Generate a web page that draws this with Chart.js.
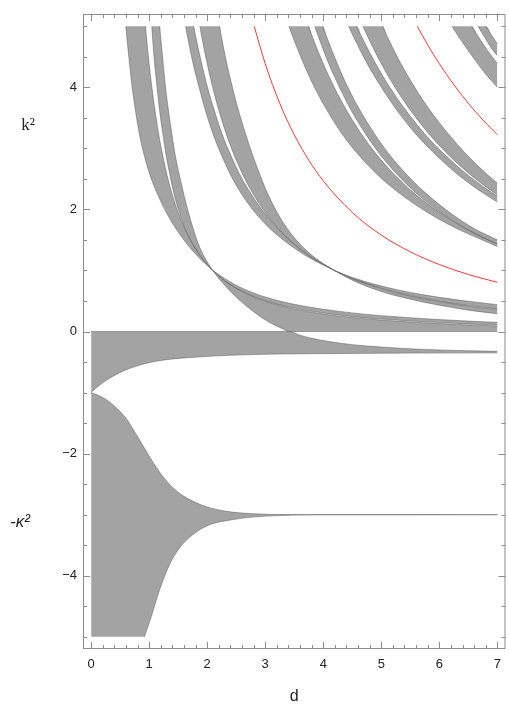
<!DOCTYPE html>
<html>
<head>
<meta charset="utf-8">
<script src="https://cdn.jsdelivr.net/npm/chart.js@4.4.1/dist/chart.umd.min.js"></script>
<style>
  html, body { margin: 0; padding: 0; background: #fff; }
  canvas { display: block; }
</style>
</head>
<body>
<canvas id="bandChart" width="509" height="720"></canvas>
<script>
// axis ticks
var xMajorTicks = [0, 1, 2, 3, 4, 5, 6, 7];
var xTickLabels = ['0', '1', '2', '3', '4', '5', '6', '7'];
var yMajorTicks = [-4, -2, 0, 2, 4];
var yTickLabels = ['\u22124', '\u22122', '0', '2', '4'];

// band edges, [d, k^2]
// first pair (above the crossing near d = 2.1)
var band1Low  = [[0.597,5],[0.613,4.84],[0.659,4.41],[0.707,4.0],[0.765,3.61],[0.830,3.24],[0.914,2.89],[1.015,2.56],[1.143,2.25],[1.289,1.96],[1.457,1.69],[1.645,1.44],[1.858,1.21],[2.094,1.0]];
var band1High = [[0.597,5],[0.937,5],[0.952,4.84],[0.997,4.41],[1.047,4.0],[1.102,3.61],[1.163,3.24],[1.232,2.89],[1.309,2.56],[1.396,2.25],[1.496,1.96],[1.611,1.69],[1.745,1.44],[1.904,1.21],[2.094,1.0]];
var band2Low  = [[1.044,5],[1.056,4.84],[1.092,4.41],[1.137,4.0],[1.181,3.61],[1.236,3.24],[1.291,2.89],[1.359,2.56],[1.429,2.25],[1.517,1.96],[1.618,1.69],[1.749,1.44],[1.906,1.21],[2.094,1.0]];
var band2High = [[1.044,5],[1.182,5],[1.197,4.84],[1.240,4.41],[1.282,4.0],[1.334,3.61],[1.391,3.24],[1.449,2.89],[1.521,2.56],[1.596,2.25],[1.674,1.96],[1.757,1.69],[1.845,1.44],[1.958,1.21],[2.094,1.0]];
// first pair below the crossing
var band1bLow  = [[2.094,1.0],[2.3,0.832],[2.6,0.66],[3.0,0.505],[3.5,0.383],[4.0,0.302],[4.5,0.245],[5.0,0.203],[5.5,0.172],[6.0,0.146],[6.5,0.124],[7.0,0.105]];
var band1bHigh = [[2.094,1.0],[2.3,0.87],[2.6,0.71],[3.0,0.565],[3.5,0.445],[4.0,0.365],[4.5,0.305],[5.0,0.26],[5.5,0.225],[6.0,0.195],[6.5,0.17],[7.0,0.15]];
var band2bLow  = [[2.094,1.0],[2.2,0.87],[2.35,0.71],[2.55,0.52],[2.75,0.36],[2.95,0.22],[3.15,0.11],[3.3,0.045],[3.41,0],[7.0,0]];
var band2bHigh = [[2.094,1.0],[2.3,0.83],[2.6,0.655],[3.0,0.495],[3.5,0.37],[4.0,0.287],[4.5,0.23],[5.0,0.187],[5.5,0.155],[6.0,0.13],[6.5,0.108],[7.0,0.09]];

// second pair (crossing near d = 4.2)
var band3Low  = [[1.627,5],[1.659,4.84],[1.752,4.41],[1.860,4.0],[1.973,3.61],[2.099,3.24],[2.246,2.89],[2.406,2.56],[2.593,2.25],[2.814,1.96],[3.076,1.69],[3.391,1.44],[3.754,1.21],[4.189,1.0]];
var band3High = [[1.627,5],[1.766,5],[1.800,4.84],[1.900,4.41],[2.005,4.0],[2.126,3.61],[2.255,3.24],[2.405,2.89],[2.568,2.56],[2.759,2.25],[2.971,1.96],[3.215,1.69],[3.489,1.44],[3.807,1.21],[4.189,1.0]];
var band4Low  = [[1.873,5],[1.904,4.84],[1.995,4.41],[2.094,4.0],[2.205,3.61],[2.327,3.24],[2.464,2.89],[2.618,2.56],[2.793,2.25],[2.992,1.96],[3.222,1.69],[3.491,1.44],[3.808,1.21],[4.189,1.0]];
var band4High = [[1.873,5],[2.213,5],[2.243,4.84],[2.333,4.41],[2.435,4.0],[2.542,3.61],[2.661,3.24],[2.782,2.89],[2.912,2.56],[3.046,2.25],[3.199,1.96],[3.376,1.69],[3.591,1.44],[3.854,1.21],[4.189,1.0]];
var band3bLow  = [[4.189,1.0],[4.5,0.869],[5.0,0.708],[5.5,0.588],[6.0,0.497],[6.5,0.426],[7.0,0.37]];
var band3bHigh = [[4.189,1.0],[4.5,0.885],[5.0,0.745],[5.5,0.64],[6.0,0.56],[6.5,0.495],[7.0,0.44]];
var band4bLow  = [[4.189,1.0],[4.5,0.84],[5.0,0.655],[5.5,0.53],[6.0,0.43],[6.5,0.35],[7.0,0.29]];
var band4bHigh = [[4.189,1.0],[4.5,0.867],[5.0,0.702],[5.5,0.58],[6.0,0.487],[6.5,0.415],[7.0,0.358]];

// third pair
var band5Low  = [[3.407,5],[3.470,4.84],[3.651,4.41],[3.849,4.0],[4.073,3.61],[4.321,3.24],[4.611,2.89],[4.943,2.56],[5.332,2.25],[5.777,1.96],[6.291,1.69],[6.882,1.44],[7.0,1.39]];
var band5High = [[3.407,5],[3.747,5],[3.808,4.84],[3.990,4.41],[4.189,4.0],[4.409,3.61],[4.654,3.24],[4.928,2.89],[5.236,2.56],[5.585,2.25],[5.984,1.96],[6.445,1.69],[6.982,1.44],[7.0,1.432]];
var band6Low  = [[3.854,5],[3.913,4.84],[4.085,4.41],[4.279,4.0],[4.488,3.61],[4.727,3.24],[4.987,2.89],[5.286,2.56],[5.619,2.25],[6.006,1.96],[6.452,1.69],[6.986,1.44],[7.0,1.436]];
var band6High = [[3.854,5],[3.993,5],[4.054,4.84],[4.232,4.41],[4.424,4.0],[4.641,3.61],[4.882,3.24],[5.146,2.89],[5.449,2.56],[5.785,2.25],[6.163,1.96],[6.591,1.69],[7.0,1.50]];

// fourth pair
var band7Low  = [[4.437,5],[4.515,4.84],[4.744,4.41],[5.001,4.0],[5.280,3.61],[5.590,3.24],[5.942,2.89],[6.333,2.56],[6.781,2.25],[7.0,2.12]];
var band7High = [[4.437,5],[4.576,5],[4.655,4.84],[4.891,4.41],[5.146,4.0],[5.433,3.61],[5.746,3.24],[6.101,2.89],[6.495,2.56],[6.948,2.25],[7.0,2.22]];
var band8Low  = [[4.683,5],[4.760,4.84],[4.987,4.41],[5.236,4.0],[5.512,3.61],[5.818,3.24],[6.160,2.89],[6.545,2.56],[6.981,2.25],[7.0,2.238]];
var band8High = [[4.683,5],[5.023,5],[5.099,4.84],[5.325,4.41],[5.576,4.0],[5.848,3.61],[6.151,3.24],[6.478,2.89],[6.839,2.56],[7.0,2.43]];

// fifth pair (top right corner)
var band9Low   = [[6.217,5],[6.325,4.84],[6.643,4.41],[6.813,4.2],[7.0,4.0]];
var band9High  = [[6.217,5],[6.557,5],[6.664,4.84],[6.819,4.62],[7.0,4.387]];
var band10Low  = [[6.664,5],[6.769,4.84],[6.912,4.62],[7.0,4.52]];
var band10High = [[6.664,5],[6.803,5],[6.910,4.84],[7.0,4.71]];

// negative side (-kappa^2)
var band0Low  = [[0,-1],[0.08,-0.93],[0.26,-0.80],[0.5,-0.67],[0.8,-0.56],[1.23,-0.47],[1.8,-0.42],[2.4,-0.39],[3.2,-0.37],[4.4,-0.36],[5.5,-0.354],[7.0,-0.35]];
var band0High = [[0,0],[3.41,0],[3.6,-0.06],[3.8,-0.11],[4.1,-0.165],[4.5,-0.215],[5.0,-0.255],[5.5,-0.283],[6.0,-0.302],[6.5,-0.315],[7.0,-0.325]];
var bandLLow  = [[0,-5],[0.92,-5],[0.93,-4.97],[1.03,-4.69],[1.17,-4.26],[1.35,-3.82],[1.52,-3.55],[1.75,-3.33],[2.03,-3.17],[2.38,-3.09],[2.78,-3.04],[3.24,-3.015],[3.81,-3.003],[7.0,-3.0]];
var bandLHigh = [[0,-1],[0.2,-1.08],[0.4,-1.22],[0.6,-1.42],[0.8,-1.72],[1.0,-2.04],[1.2,-2.33],[1.4,-2.55],[1.6,-2.70],[1.9,-2.84],[2.3,-2.94],[2.8,-2.985],[3.5,-2.999],[7.0,-3.0]];

// red curves
var red1 = [[2.81,5.0],[3.0,4.386],[3.25,3.738],[3.5,3.223],[3.75,2.807],[4.0,2.467],[4.5,1.950],[5.0,1.579],[5.5,1.305],[6.0,1.097],[6.5,0.934],[7.0,0.806]];
var red2 = [[5.62,5.0],[5.8,4.694],[6.0,4.386],[6.25,4.043],[6.5,3.738],[6.75,3.466],[7.0,3.223]];

var bands = [
    [band1Low, band1High], [band2Low, band2High],
    [band1bLow, band1bHigh], [band2bLow, band2bHigh],
    [band3Low, band3High], [band4Low, band4High],
    [band3bLow, band3bHigh], [band4bLow, band4bHigh],
    [band5Low, band5High], [band6Low, band6High],
    [band7Low, band7High], [band8Low, band8High],
    [band9Low, band9High], [band10Low, band10High],
    [band0Low, band0High], [bandLLow, bandLHigh]
];

var fillGray = '#a3a3a3';
var edgeGray = 'rgba(85,85,85,0.8)';
var none = 'rgba(0,0,0,0)';

function toPoints(arr) {
    return arr.map(function(p) { return {x: p[0], y: p[1]}; });
}

// edge line without the stretch that lies on the clipped top / bottom of the range
function edgePart(arr) {
    var i = 0;
    while (i < arr.length - 1 && Math.abs(arr[i][1]) >= 5 && Math.abs(arr[i + 1][1]) >= 5) i++;
    return arr.slice(i);
}

var datasets = [];
// fills (order 2 = drawn underneath)
bands.forEach(function(b) {
    datasets.push({ data: toPoints(b[0]), borderColor: none, borderWidth: 0, fill: false, order: 2 });
    datasets.push({ data: toPoints(b[1]), borderColor: none, borderWidth: 0, backgroundColor: fillGray, fill: '-1', order: 2 });
});
// thin darker outlines on top of the fills
bands.forEach(function(b) {
    [b[0], b[1]].forEach(function(edge) {
        datasets.push({ data: toPoints(edgePart(edge)), borderColor: edgeGray, borderWidth: 0.6, fill: false, order: 1 });
    });
});
[red1, red2].forEach(function(r) {
    datasets.push({ data: toPoints(r), borderColor: 'rgb(255,50,50)', borderWidth: 1, fill: false, order: 0 });
});

// frame with inward ticks, and the two labels on the left
var framePlugin = {
    id: 'frame',
    afterDatasetsDraw: function(chart) {
        var ctx = chart.ctx, a = chart.chartArea;
        var xs = chart.scales.x, ys = chart.scales.y;
        ctx.save();
        ctx.strokeStyle = '#8c8c8c';
        ctx.lineWidth = 1;
        ctx.strokeRect(a.left + 0.5, a.top + 0.5, a.right - a.left - 1, a.bottom - a.top - 1);
        ctx.beginPath();
        xs.ticks.forEach(function(t) {
            var px = Math.round(xs.getPixelForValue(t.value)) + 0.5;
            var len = xMajorTicks.indexOf(Math.round(t.value * 1000) / 1000) >= 0 ? 7 : 4;
            ctx.moveTo(px, a.bottom); ctx.lineTo(px, a.bottom - len);
            ctx.moveTo(px, a.top); ctx.lineTo(px, a.top + len);
        });
        ys.ticks.forEach(function(t) {
            var py = Math.round(ys.getPixelForValue(t.value)) + 0.5;
            var len = yMajorTicks.indexOf(t.value) >= 0 ? 7 : 4;
            ctx.moveTo(a.left, py); ctx.lineTo(a.left + len, py);
            ctx.moveTo(a.right, py); ctx.lineTo(a.right - len, py);
        });
        ctx.stroke();

        ctx.fillStyle = '#222';
        ctx.textAlign = 'center';
        ctx.textBaseline = 'middle';
        ctx.font = '17px "Liberation Serif", serif';
        ctx.fillText('k\u00b2', 28, ys.getPixelForValue(3.38));
        ctx.font = 'italic 17px "Liberation Sans", Arial, sans-serif';
        ctx.fillText('-\u03ba\u00b2', 20, ys.getPixelForValue(-3.12));
        ctx.restore();
    }
};

var labelFont = {family: '"Liberation Sans", Arial, sans-serif', size: 13};

var ctx = document.getElementById('bandChart').getContext('2d');
var bandChart = new Chart(ctx, {
    type: 'line',
    data: { datasets: datasets },
    options: {
        responsive: false,
        animation: false,
        layout: { padding: { top: 14, right: 2, left: 0, bottom: 0 } },
        elements: {
            point: { radius: 0 },
            line: { cubicInterpolationMode: 'monotone' }
        },
        plugins: {
            legend: { display: false },
            tooltip: { enabled: false }
        },
        scales: {
            x: {
                type: 'linear',
                min: -0.14,
                max: 7.14,
                afterBuildTicks: function(s) {
                    var t = [];
                    for (var i = 0; i <= 35; i++) t.push({value: i / 5});
                    s.ticks = t;
                },
                afterFit: function(s) { s.height = 71; },
                grid: { display: false, drawTicks: false },
                border: { display: false },
                ticks: {
                    autoSkip: false,
                    maxRotation: 0,
                    padding: 8,
                    color: '#222',
                    font: labelFont,
                    callback: function(v) {
                        var j = xMajorTicks.indexOf(Math.round(v * 1000) / 1000);
                        return j >= 0 ? xTickLabels[j] : '';
                    }
                },
                title: {
                    display: true,
                    text: 'd',
                    color: '#222',
                    font: {family: '"Liberation Sans", Arial, sans-serif', size: 16},
                    padding: { top: 0, bottom: 14 }
                }
            },
            y: {
                type: 'linear',
                min: -5.2,
                max: 5.2,
                afterBuildTicks: function(s) {
                    var t = [];
                    for (var i = -10; i <= 10; i++) t.push({value: i / 2});
                    s.ticks = t;
                },
                afterFit: function(s) { s.width = 83; },
                grid: { display: false, drawTicks: false },
                border: { display: false },
                ticks: {
                    autoSkip: false,
                    padding: 6,
                    color: '#222',
                    font: labelFont,
                    callback: function(v) {
                        var j = yMajorTicks.indexOf(v);
                        return j >= 0 ? yTickLabels[j] : '';
                    }
                }
            }
        }
    },
    plugins: [framePlugin]
});
</script>
</body>
</html>
